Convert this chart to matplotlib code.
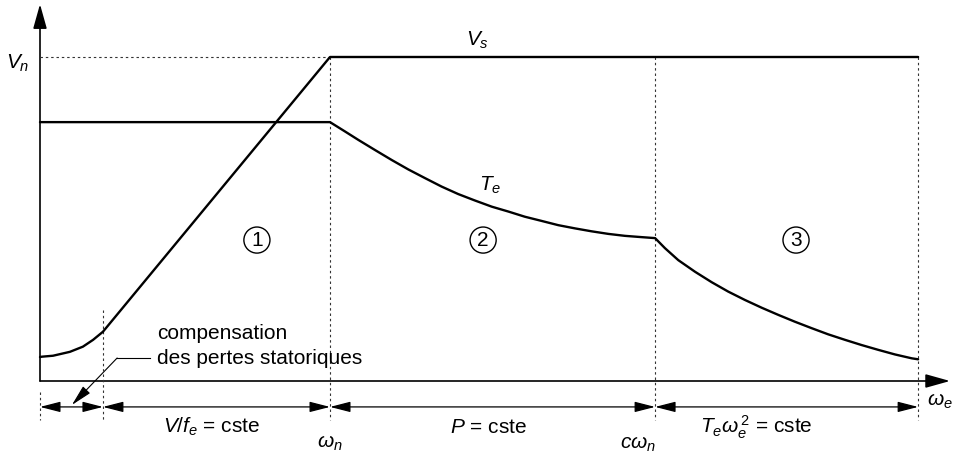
import matplotlib
matplotlib.use("Agg")
import matplotlib.pyplot as plt
from matplotlib.patches import FancyArrowPatch

plt.rcParams["font.family"] = ["Liberation Sans", "DejaVu Sans"]
plt.rcParams["mathtext.fontset"] = "custom"
plt.rcParams["mathtext.rm"] = "Liberation Sans"
plt.rcParams["mathtext.it"] = "Liberation Sans:italic"
plt.rcParams["mathtext.bf"] = "Liberation Sans:bold"

# Speed in units of omega_n, voltage / torque in units of V_n
w_comp = 0.217
w_n = 1.0
cw_n = 2.121
w_max = 3.028
V_n = 1.0

# Stator voltage V_s (with stator-loss compensation at low speed)
vs_w = [0.0, 0.006, 0.045, 0.103, 0.148, 0.183, 0.217, 1.0, 3.028]
vs_v = [0.074, 0.075, 0.078, 0.090, 0.106, 0.127, 0.152, 1.0, 1.0]

# Electromagnetic torque T_e
te_w = [0.0, 1.000, 1.052, 1.098, 1.155, 1.213, 1.270, 1.328, 1.385, 1.442,
        1.500, 1.558, 1.615, 1.672, 1.730, 1.787, 1.845, 1.902, 1.960, 2.017,
        2.075, 2.121,
        2.155, 2.201, 2.259, 2.316, 2.373, 2.431, 2.489, 2.546, 2.603, 2.661,
        2.718, 2.776, 2.833, 2.891, 2.948, 3.006, 3.028]
te_v = [0.799, 0.799, 0.770, 0.744, 0.713, 0.682, 0.653, 0.626, 0.600, 0.577,
        0.557, 0.538, 0.523, 0.507, 0.494, 0.481, 0.471, 0.462, 0.454, 0.448,
        0.444, 0.441,
        0.410, 0.373, 0.337, 0.305, 0.276, 0.250, 0.226, 0.204, 0.183, 0.163,
        0.144, 0.127, 0.111, 0.096, 0.082, 0.070, 0.067]

# Operating zones and their labels
zone_marks = ["1", "2", "3"]
zone_w = [0.748, 1.528, 2.607]
zone_bounds = [0.0, w_comp, w_n, cw_n, w_max]
zone_texts = ["", r"$V/f_e$ = cste", r"$P$ = cste", r"$T_e\omega_e^{\,2}$ = cste"]
zone_text_w = [None, 0.593, 1.545, 2.470]

fig = plt.figure(figsize=(9.68, 4.53), dpi=100)
ax = fig.add_axes([0, 0, 1, 1])
ax.set_xlim(-40 / 290, 928 / 290)
ax.set_ylim(-72 / 324, 381 / 324)
ax.axis("off")

FS = 15
k = "black"

# Axes with arrowheads
ax.add_patch(FancyArrowPatch((0, 0), (0, 1.163), arrowstyle="-|>,head_length=1.5,head_width=0.42",
                             mutation_scale=10, lw=1.2, color=k, shrinkA=0, shrinkB=0))
ax.add_patch(FancyArrowPatch((0, 0), (3.138, 0), arrowstyle="-|>,head_length=1.5,head_width=0.42",
                             mutation_scale=10, lw=1.2, color=k, shrinkA=0, shrinkB=0))

# Dotted guide lines
dot = dict(color="#333333", lw=0.8, ls=(0, (2.2, 2.6)))
ax.plot([0, w_n], [V_n, V_n], **dot)
ax.plot([0, 0], [-0.035, -0.12], **dot)
ax.plot([w_comp, w_comp], [0.22, -0.12], **dot)
for w in (w_n, cw_n, w_max):
    ax.plot([w, w], [V_n, -0.12], **dot)

# Curves
ax.plot(vs_w, vs_v, color=k, lw=1.7, solid_joinstyle="round", solid_capstyle="round")
ax.plot(te_w, te_v, color=k, lw=1.7, solid_joinstyle="round", solid_capstyle="round")

# Dimension arrows under the speed axis
y_dim = -0.080
for a, b in zip(zone_bounds[:-1], zone_bounds[1:]):
    ax.add_patch(FancyArrowPatch((a, y_dim), (b, y_dim),
                                 arrowstyle="<|-|>,head_length=1.25,head_width=0.32",
                                 mutation_scale=10, lw=0.9, color=k, shrinkA=0, shrinkB=0))
y_txt = -0.142
for t, w in zip(zone_texts, zone_text_w):
    if t:
        ax.text(w, y_txt, t, fontsize=FS, ha="center", va="center")

# Axis labels
ax.text(-0.076, 0.981, r"$V_n$", fontsize=FS, ha="center", va="center")
ax.text(3.103, -0.062, r"$\omega_e$", fontsize=FS, ha="center", va="center")
ax.text(w_n, -0.192, r"$\omega_n$", fontsize=FS, ha="center", va="center")
ax.text(cw_n - 0.06, -0.195, r"$c\omega_n$", fontsize=FS, ha="center", va="center")

# Curve labels
ax.text(1.510, 1.052, r"$V_s$", fontsize=FS, ha="center", va="center")
ax.text(1.552, 0.605, r"$T_e$", fontsize=FS, ha="center", va="center")

# Zone numbers
for m, w in zip(zone_marks, zone_w):
    ax.text(w, 0.435, m, fontsize=15, ha="center", va="center",
            bbox=dict(boxstyle="circle,pad=0.17", fc="white", ec=k, lw=1.0))

# Stator-loss compensation note with leader arrow
ax.text(0.403, 0.148, "compensation", fontsize=FS, ha="left", va="center")
ax.text(0.403, 0.068, "des pertes statoriques", fontsize=FS, ha="left", va="center")
ax.plot([0.379, 0.266], [0.071, 0.071], color=k, lw=0.8)
ax.add_patch(FancyArrowPatch((0.266, 0.071), (0.110, -0.074),
                             arrowstyle="-|>,head_length=1.3,head_width=0.3",
                             mutation_scale=10, lw=0.8, color=k, shrinkA=0, shrinkB=0))

fig.savefig("out.png", dpi=100)
